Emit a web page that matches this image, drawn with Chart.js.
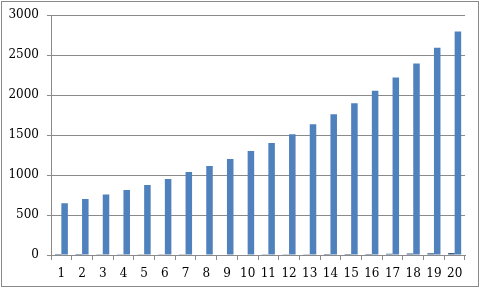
<!DOCTYPE html>
<html>
<head>
<meta charset="utf-8">
<script src="https://cdn.jsdelivr.net/npm/chart.js@4"></script>
<style>
  html, body { margin: 0; padding: 0; background: #fff; }
  #wrap { position: relative; width: 481px; height: 297px; }
  #frame { position: absolute; left: 1px; top: 1px; width: 476px; height: 284px; border: 1px solid #8a8a8a; }
  canvas { position: absolute; left: 0; top: 0; }
</style>
</head>
<body>
<div id="wrap">
  <div id="frame"></div>
  <canvas id="chart" width="481" height="297"></canvas>
</div>
<script>
const categories = ['1','2','3','4','5','6','7','8','9','10','11','12','13','14','15','16','17','18','19','20'];
const smallSeries = [1, 1, 2, 2, 3, 3, 4, 5, 6, 7, 8, 9, 10, 11, 12, 14, 16, 18, 21, 24];
const mainSeries = [646, 700, 758, 812, 875, 950, 1037, 1112, 1200, 1300, 1400, 1512, 1637, 1762, 1900, 2054, 2220, 2396, 2592, 2796];

const labelFont = { family: "'DejaVu Serif', 'Liberation Serif', serif", size: 12 };

const ctx = document.getElementById('chart').getContext('2d');
const chart = new Chart(ctx, {
    type: 'bar',
    data: {
        labels: categories,
        datasets: [
            {
                label: 'small',
                data: smallSeries,
                backgroundColor: '#3c5a85',
                barPercentage: 1,
                categoryPercentage: 0.63
            },
            {
                label: 'main',
                data: mainSeries,
                backgroundColor: '#4f81bd',
                barPercentage: 1,
                categoryPercentage: 0.63
            }
        ]
    },
    options: {
        responsive: false,
        animation: false,
        layout: { padding: { left: 0, top: 15, right: 16, bottom: 0 } },
        plugins: {
            legend: { display: false },
            tooltip: { enabled: false }
        },
        scales: {
            x: {
                offset: true,
                grid: {
                    offset: true,
                    drawOnChartArea: false,
                    tickLength: 5,
                    color: '#8a8a8a'
                },
                border: { color: '#8a8a8a' },
                ticks: {
                    padding: 7,
                    color: '#000',
                    maxRotation: 0,
                    autoSkip: false,
                    font: labelFont
                },
                afterFit: function(scale) { scale.height = 42; }
            },
            y: {
                min: 0,
                max: 3000,
                ticks: {
                    stepSize: 500,
                    padding: 8,
                    color: '#000',
                    font: labelFont,
                    callback: function(v) { return String(v); }
                },
                grid: {
                    color: '#8a8a8a',
                    tickLength: 4
                },
                border: { color: '#8a8a8a' },
                afterFit: function(scale) { scale.width = 51; }
            }
        }
    }
});
</script>
</body>
</html>
